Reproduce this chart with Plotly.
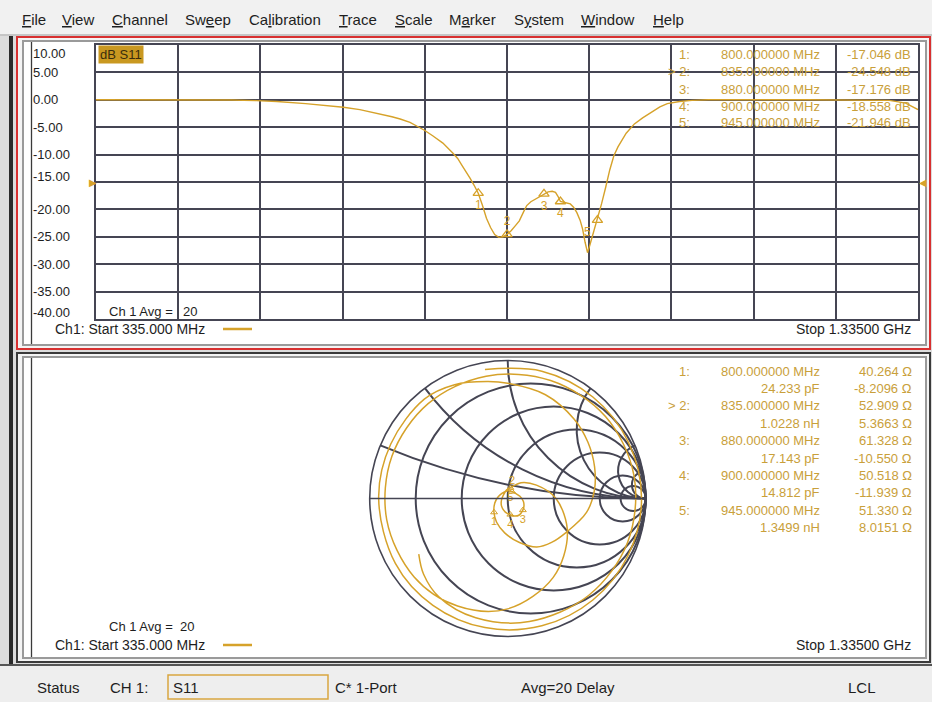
import numpy as np
import plotly.graph_objects as go

W, H = 932, 702
GOLD = "#d6a22a"
TXT_GOLD = "#c9a03a"
GRID = "#454553"
FONT = "Liberation Sans, Arial, sans-serif"

# ---------------- data ----------------
freq_mhz = [335, 400, 450, 500, 530, 555, 590, 615, 636, 656, 676, 695, 705, 717, 729, 735,
            745, 757, 769, 775, 780, 785, 790, 795, 800, 805, 810, 815, 820, 825, 830, 835,
            840, 845, 850, 855, 859, 864, 870, 875, 880, 885, 890, 894, 897, 900, 904, 908,
            912, 916, 920, 924, 927, 930, 933, 936, 940, 945, 950, 955, 960, 965, 970, 980,
            990, 1000, 1013, 1021, 1030, 1045, 1060, 1080, 1200, 1300, 1320, 1335]
s11_db = [0.0, 0.0, 0.0, -0.05, -0.15, -0.3, -0.7, -1.0, -1.35, -1.8, -2.4, -3.1, -3.5, -4.1, -5.1, -5.6,
          -6.6, -7.9, -9.7, -10.7, -11.9, -13.0, -14.3, -15.6, -17.05, -19.2, -21.6, -23.3, -24.6, -25.1, -25.0, -24.55,
          -23.9, -23.0, -22.1, -20.5, -19.3, -18.6, -18.1, -17.7, -17.18, -16.8, -16.7, -16.9, -17.6, -18.56, -18.7, -18.8,
          -19.0, -19.6, -20.6, -22.0, -23.6, -26.0, -27.9, -26.4, -24.3, -21.95, -19.0, -16.0, -12.8, -10.2, -8.6, -6.1,
          -4.4, -3.3, -2.1, -1.3, -0.7, -0.3, -0.1, 0.0, 0.0, -0.1, -0.6, -1.8]

marker_ids = ["1", "2", "3", "4", "5"]
marker_freq = [800, 835, 880, 900, 945]
marker_db = [-17.046, -24.548, -17.176, -18.558, -21.946]
marker_r_ohm = [40.264, 52.909, 61.328, 50.518, 51.330]
marker_x_ohm = [-8.2096, 5.3663, -10.550, -11.939, 8.0151]
marker_eq_val = [24.233, 1.0228, 17.143, 14.812, 1.3499]
marker_eq_unit = ["pF", "nH", "pF", "pF", "nH"]
active_marker = 1
z0 = 50.0

smith_mag = [0.95, 0.955, 0.96, 0.965, 0.97, 0.965, 0.96, 0.955, 0.95, 0.945, 0.94, 0.935, 0.935, 0.94,
             0.91, 0.86, 0.835, 0.80, 0.75, 0.71, 0.67, 0.63, 0.58, 0.49, 0.45, 0.41, 0.33, 0.25, 0.19, 0.141,
             0.10, 0.07, 0.056, 0.055, 0.059, 0.07, 0.09, 0.115, 0.13, 0.138, 0.146, 0.135, 0.118, 0.10,
             0.07, 0.045, 0.04, 0.06, 0.080,
             0.15, 0.23, 0.35, 0.50, 0.66, 0.80, 0.86, 0.885, 0.89, 0.893, 0.897, 0.90, 0.91, 0.925,
             0.93, 0.925, 0.915, 0.905, 0.895, 0.87, 0.82, 0.76]
smith_ang = [100, 75, 50, 25, 0, -25, -50, -75, -100, -125, -150, -180, -205, -230,
             -245, -260, -270, -290, -310, -325, -340, -355, -370, -390, -405, -419, -435, -455, -475, -495,
             -520, -550, -585, -625, -661.4, -690, -710, -730, -745, -757.5, -775, -790, -801, -820,
             -850, -890, -940, -980, -1004,
             -1030, -1055, -1080, -1110, -1140, -1170, -1195, -1220, -1250, -1280, -1310, -1340, -1370, -1400,
             -1430, -1460, -1490, -1520, -1545, -1565, -1578, -1588]

y_tick_vals = [10, 5, 0, -5, -10, -15, -20, -25, -30, -35, -40]
y_tick_text = ["10.00", "5.00", "0.00", "-5.00", "-10.00", "-15.00", "-20.00",
               "-25.00", "-30.00", "-35.00", "-40.00"]
menu_items = ["<u>F</u>ile", "<u>V</u>iew", "<u>C</u>hannel", "Sw<u>e</u>ep", "Ca<u>l</u>ibration",
              "<u>T</u>race", "<u>S</u>cale", "M<u>a</u>rker", "S<u>y</u>stem", "<u>W</u>indow", "<u>H</u>elp"]
status_items = ["Status", "CH 1:", "S11", "C* 1-Port", "Avg=20 Delay", "LCL"]
start_label = "Ch1: Start 335.000 MHz"
stop_label = "Stop 1.33500 GHz"
avg_label = "Ch 1 Avg ="
avg_value = "20"
ref_level_db = -15


# ---------------- helpers ----------------
def px(x):
    return x / W


def py(y):
    return 1 - y / H


def sig5(v):
    ndig = len(str(int(abs(v)))) if abs(v) >= 1 else 1
    return f"{v:.{max(5 - ndig, 0)}f}"


annotations = []
shapes = []


def txt(x, y, s, anchor="left", size=13, color="#222", yref="paper", **kw):
    annotations.append(dict(
        x=px(x), y=(py(y) if yref == "paper" else y), xref="paper", yref=yref, text=s,
        showarrow=False, xanchor=anchor, yanchor="middle",
        font=dict(family=FONT, size=size, color=color), **kw))


def rect(x0, y0, x1, y1, line=None, fill=None, width=1, layer="below"):
    shapes.append(dict(type="rect", xref="paper", yref="paper", x0=px(x0), x1=px(x1),
                       y0=py(y1), y1=py(y0), layer=layer,
                       line=dict(color=line or "rgba(0,0,0,0)", width=width if line else 0),
                       fillcolor=fill or "rgba(0,0,0,0)"))


def hline(x0, x1, y, color, width=1, layer="below"):
    shapes.append(dict(type="line", xref="paper", yref="paper", x0=px(x0), x1=px(x1),
                       y0=py(y), y1=py(y), layer=layer, line=dict(color=color, width=width)))


def vline(x, y0, y1, color, width=1, layer="below"):
    shapes.append(dict(type="line", xref="paper", yref="paper", x0=px(x), x1=px(x),
                       y0=py(y0), y1=py(y1), layer=layer, line=dict(color=color, width=width)))


# ---------------- frame / window ----------------
rect(0, 0, W, 36, fill="#f1f1f1")
hline(0, W, 35, "#9a9a9a", 1)
rect(0, 36, W, 664, fill="#dcdcdc")
vline(11, 36, 702, "#2a2a2a", 4)
# top panel (active, red)
rect(17, 37, 930, 349, fill="#f4f4f4", line="#d83030", width=2)
rect(23, 41, 926, 345, fill="#ffffff", line="#9a9a9a", width=2)
vline(31.5, 42, 344, "#3a3a3a", 1.3)
# bottom panel
rect(17, 353, 930, 662, fill="#f4f4f4", line="#3a3a3a", width=2)
rect(23, 357, 926, 658, fill="#ffffff", line="#9a9a9a", width=2)
vline(31.5, 358, 657, "#3a3a3a", 1.3)
# status bar
rect(0, 664, W, 702, fill="#eeeeee")
hline(0, W, 665, "#555555", 2)
rect(168, 675, 328, 699, line="#d9a640", width=1.5, layer="above")

# menu
menu_x = [20, 60, 110, 183, 247, 337, 393, 447, 512, 579, 651]
for mx, m in zip(menu_x, menu_items):
    txt(mx, 20, m, size=15, color="#1e1e1e")

# status texts
status_x = [35, 108, 171, 333, 519, 846]
for sx, s in zip(status_x, status_items):
    txt(sx, 687, s, size=15, color="#1e1e1e")

# ---------------- top plot texts ----------------
tick_shift = {10: -9, -15: 6, -40: 7}
for v, t in zip(y_tick_vals, y_tick_text):
    txt(31, v, t, yref="y", size=13, color="#1e1e1e", yshift=tick_shift.get(v, 0))

txt(98, 55, "dB S11", size=13, color="#3a2c0c", bgcolor="#c99820", borderpad=1)
txt(107, 311, avg_label, size=13, color="#1e1e1e")
txt(181, 311, avg_value, size=13, color="#1e1e1e")
txt(53, 329, start_label, size=14, color="#1e1e1e")
hline(223, 252, 329, GOLD, 2.5, layer="above")
txt(913, 329, stop_label, anchor="right", size=14, color="#1e1e1e")
txt(87, ref_level_db, "▶", yref="y", size=10, color=GOLD)
txt(929, ref_level_db, "◀", yref="y", anchor="right", size=10, color=GOLD)

top_rows = [55, 72, 89, 106, 122]
for i, yy in enumerate(top_rows):
    lab = ("> " if i == active_marker else "") + marker_ids[i] + ":"
    txt(692, yy, lab, anchor="right", color=TXT_GOLD)
    txt(822, yy, f"{marker_freq[i]:.6f} MHz", anchor="right", color=TXT_GOLD)
    txt(913, yy, f"{marker_db[i]:.3f} dB", anchor="right", color=TXT_GOLD)

# ---------------- bottom plot texts ----------------
for i in range(5):
    y1 = 371 + 34.8 * i
    y2 = y1 + 17.4
    lab = ("> " if i == active_marker else "") + marker_ids[i] + ":"
    txt(692, y1, lab, anchor="right", color=TXT_GOLD)
    txt(822, y1, f"{marker_freq[i]:.6f} MHz", anchor="right", color=TXT_GOLD)
    txt(914, y1, f"{sig5(marker_r_ohm[i])} Ω", anchor="right", color=TXT_GOLD)
    txt(822, y2, f"{sig5(marker_eq_val[i])} {marker_eq_unit[i]}", anchor="right", color=TXT_GOLD)
    txt(914, y2, f"{sig5(marker_x_ohm[i])} Ω", anchor="right", color=TXT_GOLD)

txt(107, 626, avg_label + "  " + avg_value, size=13, color="#1e1e1e")
txt(53, 645, start_label, size=14, color="#1e1e1e")
hline(223, 252, 645, GOLD, 2.5, layer="above")
txt(913, 645, stop_label, anchor="right", size=14, color="#1e1e1e")

# ---------------- traces ----------------
fig = go.Figure()
fig.add_trace(go.Scatter(x=freq_mhz, y=s11_db, mode="lines",
                         line=dict(color=GOLD, width=1.4), showlegend=False, hoverinfo="skip"))
fig.add_trace(go.Scatter(x=marker_freq, y=marker_db, mode="markers+text", text=marker_ids,
                         textposition=["bottom center", "top center", "bottom center", "bottom center", "bottom left"],
                         textfont=dict(family=FONT, size=12, color=GOLD),
                         marker=dict(symbol="triangle-up-open", size=9, color=GOLD, line=dict(width=1.3)),
                         showlegend=False, hoverinfo="skip"))

g = np.array(smith_mag) * np.exp(1j * np.deg2rad(np.array(smith_ang)))
z = (1 + g) / (1 - g)
fig.add_trace(go.Scattersmith(real=z.real, imag=z.imag, mode="lines",
                              line=dict(color=GOLD, width=1.5, shape="spline"),
                              showlegend=False, hoverinfo="skip"))
fig.add_trace(go.Scattersmith(real=np.array(marker_r_ohm) / z0, imag=np.array(marker_x_ohm) / z0,
                              mode="markers+text", text=marker_ids,
                              textposition=["bottom center", "top center", "bottom center", "bottom center", "bottom center"],
                              textfont=dict(family=FONT, size=11, color=GOLD),
                              marker=dict(symbol="triangle-up-open", size=6, color=GOLD, line=dict(width=1)),
                              showlegend=False, hoverinfo="skip"))

cx, cy, R = 507.7, 498.5, 138
grid_vals = [0.2, 0.5, 1, 2, 5, 10]
fig.update_layout(
    width=W, height=H, margin=dict(l=0, r=0, t=0, b=0),
    paper_bgcolor="#f1f1f1", plot_bgcolor="rgba(0,0,0,0)",
    xaxis=dict(domain=[px(96), px(918)], range=[335, 1335], tick0=335, dtick=100,
               showgrid=True, gridcolor=GRID, gridwidth=1.6, zeroline=False,
               showline=True, mirror=True, linecolor=GRID, linewidth=1.6,
               showticklabels=False, ticks="", fixedrange=True),
    yaxis=dict(domain=[py(319), py(45)], range=[-40, 10], tick0=0, dtick=5,
               showgrid=True, gridcolor=GRID, gridwidth=1.6, zeroline=False,
               showline=True, mirror=True, linecolor=GRID, linewidth=1.6,
               showticklabels=False, ticks="", fixedrange=True),
    smith=dict(
        domain=dict(x=[px(cx - R), px(cx + R)], y=[py(cy + R), py(cy - R)]),
        bgcolor="rgba(0,0,0,0)",
        realaxis=dict(tickvals=grid_vals, showticklabels=False, gridcolor=GRID, gridwidth=1.5,
                      linecolor=GRID, linewidth=1.5, ticks=""),
        imaginaryaxis=dict(tickvals=grid_vals, showticklabels=False, gridcolor=GRID, gridwidth=1.5,
                           linecolor=GRID, linewidth=1.6, ticks=""),
    ),
    annotations=annotations, shapes=shapes,
)

fig.write_html("out.html", config={"displayModeBar": False},
               post_script="document.body.style.margin='0';document.body.style.overflow='hidden';")
